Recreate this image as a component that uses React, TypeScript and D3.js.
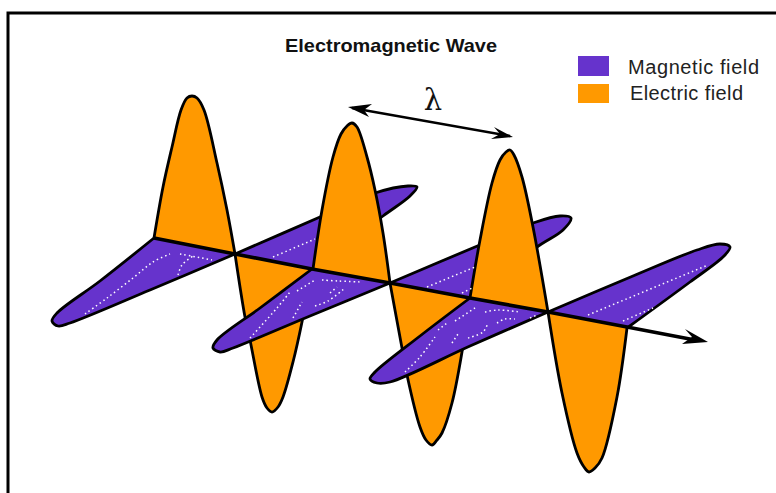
import React from "react";
import * as d3 from "d3";

type P = [number, number];

const W = 776, H = 493;
const titleText = "Electromagnetic Wave";
const legendLabels = ["Magnetic field", "Electric field"];
const lambdaText = "λ";
const purple = "#6633CC", orange = "#FF9900";

// Electric-field lobes
const electricUp: P[][] = [
  [[154,238],[163,187],[172,147],[181,110],[187,98],[192,96],[197,98],[204,110],[217,163],[227,210],[235,254]],
  [[313,269],[322,210],[333,157],[341,134],[347,126],[352,123],[357,127],[367,157],[375,190],[383,233],[390,283]],
  [[470,298],[480,240],[492,183],[500,160],[506,152],[510,150],[514,155],[522,177],[533,227],[548,312]],
];
const electricDown: P[][] = [
  [[235,254],[245,317],[250,340],[262,397],[267,408],[272,412],[278,407],[283,397],[293,362],[302,322],[312,269]],
  [[390,283],[402,348],[407,375],[420,427],[426,440],[432,445],[437,440],[442,433],[452,403],[462,352],[470,298]],
  [[548,312],[562,393],[577,453],[584,467],[589,472],[595,468],[602,458],[617,397],[627,328]],
];
// Magnetic-field lobes: outer outline from start node round the tip to end node
const magneticBack: P[][] = [
  [[235,254],[320,217],[375,193],[408,186],[417,187],[410,196],[383,216],[312,269]],
  [[390,283],[475,247],[533,223],[560,216],[571,218],[563,230],[537,247],[470,298]],
  [[548,312],[633,276],[697,250],[720,244],[730,247],[724,256],[690,282],[627,328]],
];
const magneticFront: P[][] = [
  [[154,238],[100,281],[57,313],[52,321],[58,326],[70,323],[150,290],[235,254]],
  [[312,269],[260,308],[217,340],[213,348],[220,352],[233,348],[310,316],[390,283]],
  [[470,298],[420,336],[375,372],[370,379],[377,383],[390,382],[470,346],[548,312]],
];
// White dotted highlights inside the magnetic lobes
const highlights: P[][] = [
  [[85,314],[107,298],[133,278],[153,262],[170,254]],
  [[178,275],[182,265],[193,256]],
  [[180,254],[202,258],[212,260]],
  [[273,257],[315,239]],
  [[250,338],[277,308],[290,292]],
  [[297,291],[315,280]],
  [[293,318],[302,302]],
  [[330,293],[337,287]],
  [[322,280],[338,281],[362,282]],
  [[315,306],[328,301],[345,288]],
  [[427,287],[475,267]],
  [[462,293],[472,288]],
  [[405,372],[420,357],[435,337]],
  [[438,330],[447,323]],
  [[455,321],[475,308]],
  [[452,343],[458,334]],
  [[468,338],[483,332],[488,323]],
  [[485,312],[498,310],[520,312]],
  [[497,323],[505,319],[515,319]],
  [[530,318],[537,315]],
  [[588,315],[708,265]],
  [[623,321],[653,308]],
];
const axisLine: P[] = [[154,238],[235,254],[312,269],[390,283],[470,298],[548,312],[627,327],[695,340]];
const axisHead: P[] = [[708,342],[685,329],[692,337],[682,344]];
const lambdaArrow: P[] = [[352,108],[510,136]];
const headLeft: P[] = [[348,107],[372,104],[364,110],[369,117]];
const headRight: P[] = [[513,137],[494,127],[500,134],[491,139]];

const x = d3.scaleIdentity().domain([0, W]);
const y = d3.scaleIdentity().domain([0, H]);
const smooth = d3.line<P>().x(d => x(d[0])).y(d => y(d[1])).curve(d3.curveCatmullRom.alpha(0.5));
const straight = d3.line<P>().x(d => x(d[0])).y(d => y(d[1]));

const Lobe = ({ pts, fill }: { pts: P[]; fill: string }) => (
  <>
    <path d={smooth(pts)! + "Z"} fill={fill} stroke="none" />
    <path d={smooth(pts)!} fill="none" stroke="#000" strokeWidth={2.8} strokeLinejoin="round" />
  </>
);

export default function App() {
  const sans = "'Liberation Sans', Arial, sans-serif";
  return (
    <svg width={W} height={H} viewBox={`0 0 ${W} ${H}`}
      style={{ position: "fixed", left: 0, top: 0, background: "#fff", display: "block" }}>
      <path d={`M${W},13H8V${H}`} fill="none" stroke="#000" strokeWidth={3} />

      <text x={285} y={52} fontFamily={sans} fontSize={19} fontWeight={700}
        textLength={212} lengthAdjust="spacingAndGlyphs" fill="#111">{titleText}</text>

      <rect x={578} y={56} width={31} height={20} fill={purple} />
      <rect x={578} y={84} width={31} height={19} fill={orange} />
      <text x={628} y={74} fontFamily={sans} fontSize={20} textLength={131} lengthAdjust="spacing" fill="#222">{legendLabels[0]}</text>
      <text x={630} y={100} fontFamily={sans} fontSize={20} textLength={113} lengthAdjust="spacing" fill="#222">{legendLabels[1]}</text>

      <text x={433} y={110} textAnchor="middle" fontFamily="'DejaVu Serif', serif" fontSize={29} fill="#111">{lambdaText}</text>
      <path d={straight(lambdaArrow)!} stroke="#000" strokeWidth={2.4} fill="none" />
      <path d={straight(headLeft)! + "Z"} fill="#000" />
      <path d={straight(headRight)! + "Z"} fill="#000" />

      {magneticBack.map((p, i) => <Lobe key={"mb" + i} pts={p} fill={purple} />)}
      {electricUp.map((p, i) => <Lobe key={"eu" + i} pts={p} fill={orange} />)}
      {electricDown.map((p, i) => <Lobe key={"ed" + i} pts={p} fill={orange} />)}
      {magneticFront.map((p, i) => <Lobe key={"mf" + i} pts={p} fill={purple} />)}

      {highlights.map((p, i) => (
        <path key={"h" + i} d={smooth(p)!} fill="none" stroke="#fff" strokeWidth={1.5}
          strokeDasharray="1.5 3" />
      ))}

      <path d={straight(axisLine)!} fill="none" stroke="#000" strokeWidth={3.6} />
      <path d={straight(axisHead)! + "Z"} fill="#000" />
    </svg>
  );
}
